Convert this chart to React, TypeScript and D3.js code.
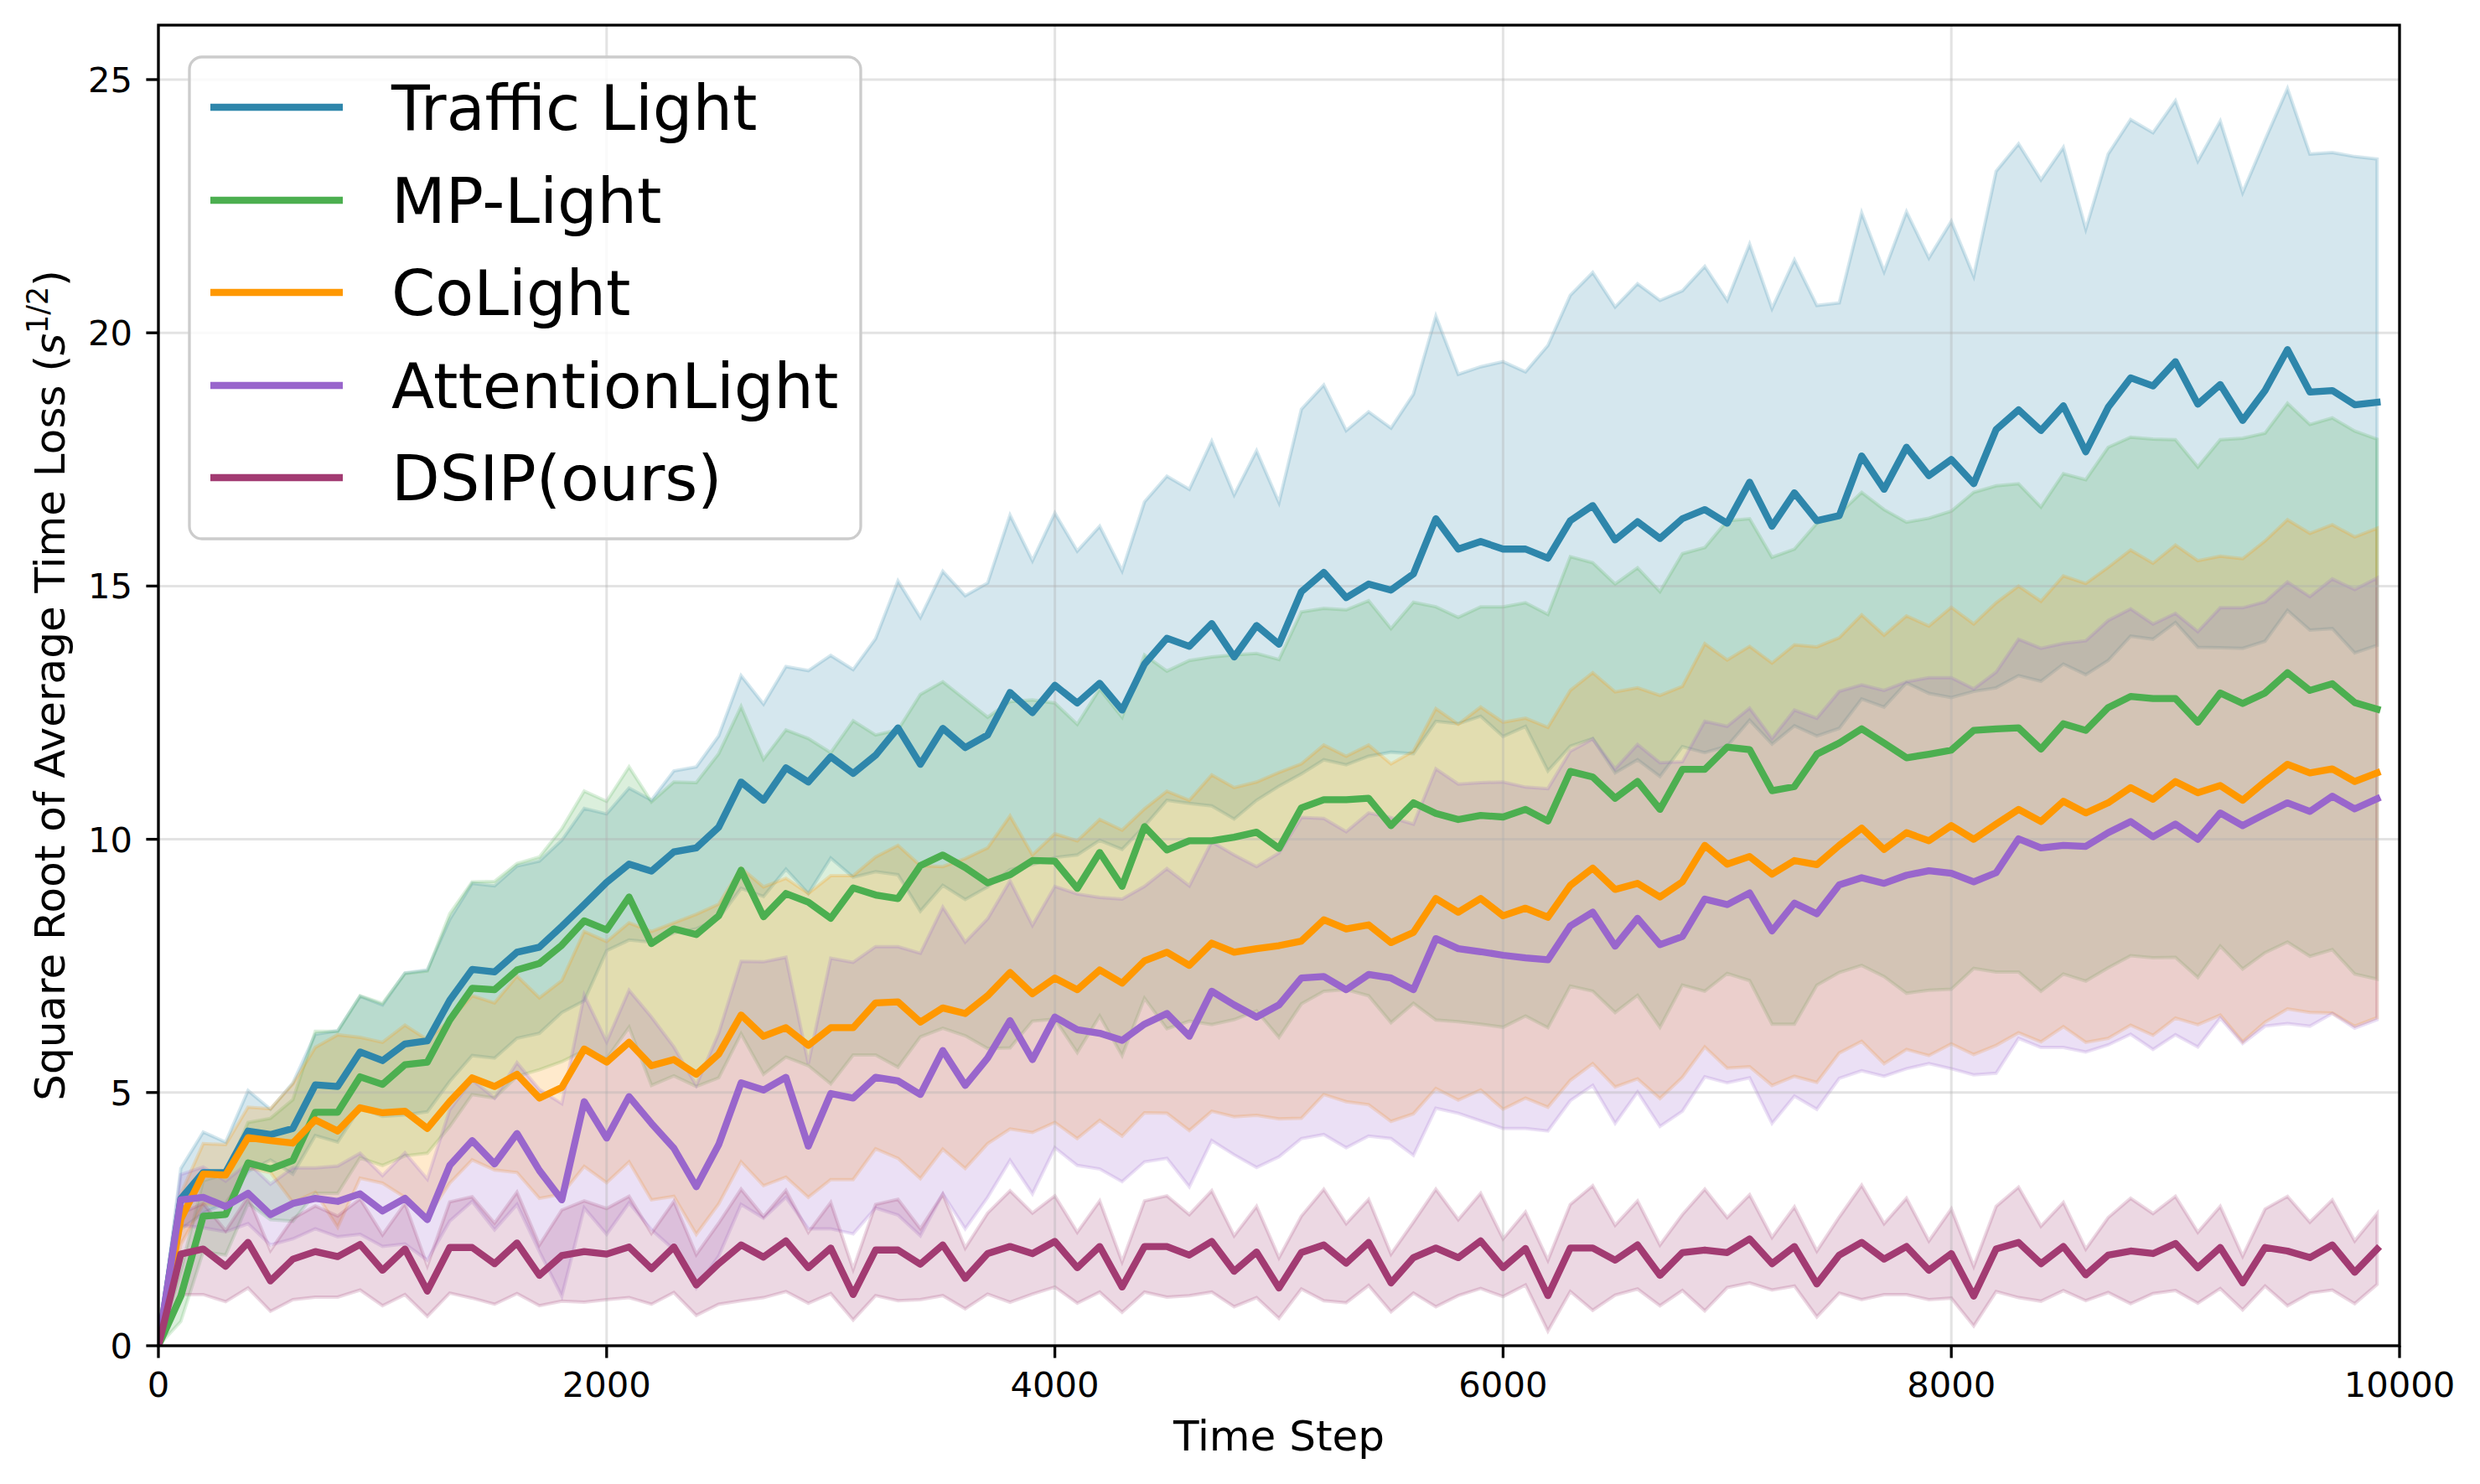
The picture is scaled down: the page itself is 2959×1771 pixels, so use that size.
import React from 'react';
import * as d3 from 'd3';

// Evaluation time steps (one sample every 100 steps)
const timeSteps = [
	0, 100, 200, 300, 400, 500, 600, 700, 800, 900,
	1000, 1100, 1200, 1300, 1400, 1500, 1600, 1700, 1800, 1900,
	2000, 2100, 2200, 2300, 2400, 2500, 2600, 2700, 2800, 2900,
	3000, 3100, 3200, 3300, 3400, 3500, 3600, 3700, 3800, 3900,
	4000, 4100, 4200, 4300, 4400, 4500, 4600, 4700, 4800, 4900,
	5000, 5100, 5200, 5300, 5400, 5500, 5600, 5700, 5800, 5900,
	6000, 6100, 6200, 6300, 6400, 6500, 6600, 6700, 6800, 6900,
	7000, 7100, 7200, 7300, 7400, 7500, 7600, 7700, 7800, 7900,
	8000, 8100, 8200, 8300, 8400, 8500, 8600, 8700, 8800, 8900,
	9000, 9100, 9200, 9300, 9400, 9500, 9600, 9700, 9800, 9900,
];

const trafficMean = [
	0, 2.9, 3.42, 3.42, 4.24, 4.17, 4.29, 5.15, 5.12, 5.8,
	5.63, 5.96, 6.02, 6.82, 7.43, 7.38, 7.77, 7.87, 8.28, 8.71,
	9.15, 9.51, 9.37, 9.75, 9.83, 10.24, 11.13, 10.77, 11.41, 11.13,
	11.63, 11.3, 11.66, 12.2, 11.48, 12.19, 11.81, 12.06, 12.9, 12.5,
	13.04, 12.69, 13.08, 12.55, 13.46, 13.97, 13.81, 14.26, 13.6, 14.22,
	13.85, 14.89, 15.27, 14.77, 15.04, 14.92, 15.24, 16.33, 15.73, 15.88,
	15.73, 15.73, 15.55, 16.29, 16.59, 15.91, 16.27, 15.94, 16.33, 16.51,
	16.24, 17.05, 16.18, 16.84, 16.29, 16.39, 17.57, 16.91, 17.74, 17.18,
	17.5, 17.02, 18.09, 18.48, 18.07, 18.56, 17.65, 18.53, 19.11, 18.95,
	19.43, 18.59, 18.98, 18.27, 18.86, 19.67, 18.83, 18.86, 18.58, 18.63,
];
const trafficStd = [
	0, 0.6, 0.8, 0.6, 0.8, 0.5, 0.9, 1.0, 1.1, 1.1,
	1.1, 1.4, 1.4, 1.6, 1.7, 1.7, 1.7, 1.7, 1.7, 1.9,
	1.35, 1.5, 1.4, 1.6, 1.6, 1.8, 2.1, 1.9, 2.0, 2.2,
	2.0, 2.05, 2.3, 2.9, 2.9, 3.1, 3.0, 3.0, 3.5, 3.0,
	3.4, 3.0, 3.1, 2.75, 3.2, 3.2, 3.1, 3.6, 3.2, 3.45,
	2.8, 3.6, 3.7, 3.3, 3.4, 3.2, 3.55, 4.0, 3.45, 3.45,
	3.7, 3.5, 4.2, 4.45, 4.6, 4.6, 4.7, 4.7, 4.5, 4.8,
	4.4, 4.7, 4.3, 4.6, 4.25, 4.2, 4.8, 4.3, 4.65, 4.3,
	4.7, 4.1, 5.1, 5.25, 4.95, 5.1, 4.4, 5.0, 5.1, 5.0,
	5.15, 4.8, 5.2, 4.5, 4.95, 5.15, 4.7, 4.7, 4.9, 4.8,
];

const mpMean = [
	0, 0.98, 2.56, 2.59, 3.61, 3.49, 3.66, 4.61, 4.61, 5.31,
	5.16, 5.55, 5.6, 6.43, 7.06, 7.03, 7.42, 7.55, 7.91, 8.39,
	8.21, 8.86, 7.94, 8.23, 8.12, 8.49, 9.39, 8.47, 8.93, 8.76,
	8.44, 9.04, 8.9, 8.83, 9.48, 9.69, 9.44, 9.14, 9.3, 9.58,
	9.57, 9.03, 9.74, 9.07, 10.25, 9.79, 9.97, 9.97, 10.04, 10.14,
	9.82, 10.62, 10.78, 10.78, 10.81, 10.27, 10.72, 10.51, 10.39, 10.47,
	10.44, 10.59, 10.36, 11.34, 11.23, 10.81, 11.14, 10.59, 11.38, 11.38,
	11.82, 11.77, 10.96, 11.04, 11.68, 11.9, 12.18, 11.9, 11.61, 11.68,
	11.76, 12.15, 12.18, 12.2, 11.78, 12.28, 12.15, 12.6, 12.82, 12.78,
	12.78, 12.31, 12.89, 12.68, 12.89, 13.29, 12.94, 13.07, 12.7, 12.57,
];
const mpStd = [
	0, 0.5, 0.7, 0.8, 0.8, 1.0, 1.2, 1.6, 1.6, 1.6,
	1.6, 1.8, 1.8, 2.1, 2.1, 2.14, 2.1, 2.1, 2.3, 2.56,
	2.54, 2.57, 2.8, 2.9, 3.0, 3.2, 3.23, 3.11, 3.23, 3.23,
	3.27, 3.3, 3.16, 3.33, 3.38, 3.42, 3.32, 3.27, 3.42, 3.17,
	3.12, 3.24, 3.23, 3.34, 3.39, 3.53, 3.56, 3.63, 3.6, 3.53,
	3.73, 3.87, 3.78, 3.75, 3.9, 3.89, 3.96, 4.08, 3.99, 4.12,
	4.15, 4.08, 4.08, 4.24, 4.23, 4.23, 4.22, 4.3, 4.26, 4.38,
	4.47, 4.56, 4.61, 4.69, 4.56, 4.53, 4.67, 4.61, 4.65, 4.66,
	4.72, 4.7, 4.8, 4.82, 4.78, 4.94, 4.95, 5.14, 5.12, 5.12,
	5.11, 5.04, 5.0, 5.24, 5.13, 5.32, 5.25, 5.25, 5.36, 5.33,
];

const coMean = [
	0, 2.5, 3.39, 3.37, 4.11, 4.05, 4.0, 4.46, 4.24, 4.7,
	4.6, 4.63, 4.29, 4.82, 5.29, 5.12, 5.36, 4.89, 5.1, 5.86,
	5.6, 5.99, 5.53, 5.65, 5.36, 5.76, 6.53, 6.11, 6.28, 5.93,
	6.28, 6.28, 6.77, 6.79, 6.39, 6.67, 6.56, 6.91, 7.37, 6.95,
	7.26, 7.03, 7.42, 7.16, 7.6, 7.77, 7.51, 7.95, 7.77, 7.84,
	7.9, 7.99, 8.41, 8.23, 8.31, 7.96, 8.16, 8.83, 8.56, 8.83,
	8.49, 8.64, 8.46, 9.09, 9.43, 9.01, 9.13, 8.86, 9.16, 9.88,
	9.51, 9.66, 9.31, 9.58, 9.5, 9.88, 10.22, 9.8, 10.13, 9.97,
	10.27, 10.0, 10.3, 10.59, 10.35, 10.75, 10.52, 10.72, 11.02, 10.79,
	11.14, 10.92, 11.06, 10.77, 11.14, 11.48, 11.31, 11.39, 11.14, 11.31,
];
const coStd = [
	0, 0.5, 0.6, 0.6, 0.6, 0.63, 1.17, 1.43, 1.9, 1.39,
	1.39, 1.7, 1.75, 1.61, 1.62, 1.65, 1.94, 1.98, 2.11, 2.32,
	2.38, 2.36, 2.65, 2.7, 3.16, 2.96, 2.9, 2.95, 2.95, 3.0,
	3.0, 3.0, 2.88, 3.09, 3.09, 2.79, 3.06, 2.92, 3.09, 2.74,
	2.85, 2.94, 2.97, 3.02, 3.0, 3.18, 3.26, 3.32, 3.25, 3.29,
	3.42, 3.5, 3.45, 3.41, 3.55, 3.53, 3.58, 3.75, 3.71, 3.78,
	3.82, 3.75, 3.75, 3.85, 3.86, 3.9, 3.86, 3.98, 3.86, 3.98,
	4.03, 4.15, 4.17, 4.26, 4.3, 4.1, 4.21, 4.23, 4.28, 4.24,
	4.31, 4.25, 4.37, 4.41, 4.35, 4.45, 4.53, 4.65, 4.69, 4.66,
	4.67, 4.58, 4.53, 4.77, 4.75, 4.83, 4.73, 4.82, 4.83, 4.83,
];

const attnMean = [
	0, 2.88, 2.93, 2.75, 3.01, 2.59, 2.81, 2.91, 2.85, 3.0,
	2.66, 2.91, 2.49, 3.56, 4.05, 3.59, 4.19, 3.46, 2.88, 4.82,
	4.1, 4.92, 4.39, 3.9, 3.14, 3.97, 5.19, 5.05, 5.3, 3.94,
	4.98, 4.89, 5.3, 5.23, 4.96, 5.83, 5.14, 5.68, 6.42, 5.65,
	6.49, 6.24, 6.17, 6.03, 6.35, 6.56, 6.11, 7.0, 6.73, 6.49,
	6.73, 7.26, 7.29, 7.03, 7.33, 7.26, 7.03, 8.04, 7.84, 7.78,
	7.71, 7.66, 7.62, 8.29, 8.56, 7.89, 8.44, 7.92, 8.08, 8.82,
	8.71, 8.94, 8.19, 8.74, 8.53, 9.1, 9.24, 9.13, 9.29, 9.38,
	9.33, 9.16, 9.34, 10.01, 9.83, 9.88, 9.86, 10.13, 10.35, 10.05,
	10.3, 10.0, 10.52, 10.27, 10.5, 10.72, 10.55, 10.85, 10.6, 10.8,
];
const attnStd = [
	0, 0.5, 0.6, 0.5, 0.6, 0.6, 0.7, 0.6, 0.7, 0.8,
	0.7, 0.9, 0.8, 1.1, 1.2, 1.3, 1.4, 1.6, 1.9, 2.1,
	1.9, 2.1, 2.1, 2.0, 2.0, 2.2, 2.4, 2.53, 2.37, 1.63,
	2.67, 2.68, 2.58, 2.65, 2.79, 2.83, 2.83, 2.75, 2.76, 2.65,
	2.58, 2.68, 2.68, 2.79, 2.72, 2.86, 2.97, 2.95, 2.96, 2.97,
	3.0, 3.17, 3.12, 3.12, 3.19, 3.17, 3.27, 3.35, 3.25, 3.34,
	3.42, 3.37, 3.38, 3.45, 3.42, 3.5, 3.43, 3.59, 3.45, 3.51,
	3.52, 3.65, 3.8, 3.81, 3.86, 3.82, 3.81, 3.81, 3.82, 3.81,
	3.86, 3.81, 3.96, 3.94, 3.94, 3.99, 4.06, 4.19, 4.2, 4.2,
	4.16, 4.1, 4.05, 4.3, 4.19, 4.36, 4.24, 4.29, 4.33, 4.36,
];

const dsipMean = [
	0, 1.81, 1.91, 1.57, 2.04, 1.28, 1.71, 1.86, 1.76, 2.0,
	1.49, 1.91, 1.08, 1.94, 1.94, 1.62, 2.03, 1.39, 1.78, 1.86,
	1.81, 1.95, 1.52, 1.95, 1.2, 1.62, 1.99, 1.75, 2.07, 1.54,
	1.93, 1.01, 1.89, 1.89, 1.61, 1.99, 1.33, 1.82, 1.96, 1.82,
	2.06, 1.54, 1.96, 1.16, 1.96, 1.96, 1.79, 2.06, 1.47, 1.85,
	1.14, 1.84, 1.99, 1.63, 2.04, 1.24, 1.74, 1.93, 1.74, 2.07,
	1.54, 1.92, 0.99, 1.93, 1.93, 1.69, 1.99, 1.39, 1.84, 1.89,
	1.84, 2.11, 1.62, 1.96, 1.22, 1.79, 2.04, 1.71, 1.96, 1.49,
	1.82, 0.98, 1.91, 2.04, 1.62, 1.96, 1.4, 1.79, 1.87, 1.82,
	2.02, 1.54, 1.94, 1.24, 1.94, 1.87, 1.74, 1.99, 1.45, 1.91,
];
const dsipStd = [
	0, 0.8, 0.9, 0.7, 0.9, 0.6, 0.8, 0.9, 0.8, 0.9,
	0.7, 0.9, 0.5, 0.9, 1.0, 0.8, 1.0, 0.6, 0.9, 1.0,
	0.9, 1.0, 0.7, 0.9, 0.6, 0.8, 1.1, 0.8, 1.0, 0.7,
	0.9, 0.5, 0.9, 1.0, 0.7, 1.0, 0.6, 0.8, 1.1, 0.8,
	0.9, 0.7, 0.9, 0.5, 0.9, 1.0, 0.8, 1.0, 0.7, 0.9,
	0.6, 0.72, 1.1, 0.78, 0.85, 0.57, 0.7, 1.16, 0.75, 0.94,
	0.57, 0.72, 0.7, 0.86, 1.23, 0.69, 0.87, 0.6, 0.75, 1.2,
	0.69, 0.87, 0.52, 0.78, 0.65, 0.75, 1.13, 0.7, 0.95, 0.58,
	0.88, 0.59, 0.84, 1.09, 0.74, 0.87, 0.51, 0.74, 1.04, 0.79,
	0.93, 0.7, 0.81, 0.53, 0.76, 1.08, 0.7, 0.89, 0.62, 0.7,
];

const seriesNames = ['Traffic Light', 'MP-Light', 'CoLight', 'AttentionLight', 'DSIP(ours)'];
const seriesColors = ['#2E86AB', '#4CAF50', '#FF9800', '#9966CC', '#A23B72'];
const seriesMeans = [trafficMean, mpMean, coMean, attnMean, dsipMean];
const seriesStds = [trafficStd, mpStd, coStd, attnStd, dsipStd];

const xTicks = [0, 2000, 4000, 6000, 8000, 10000];
const yTicks = [0, 5, 10, 15, 20, 25];

interface Point {
	t: number;
	mean: number;
	std: number;
}

const width = 2959;
const height = 1771;
const plotLeft = 189;
const plotRight = 2863;
const plotTop = 30;
const plotBottom = 1606;

const fontFamily = '"DejaVu Sans", sans-serif';

const App: React.FC = () => {
	const x = d3.scaleLinear().domain([0, 10000]).range([plotLeft, plotRight]);
	const y = d3.scaleLinear().domain([0, 26.075]).range([plotBottom, plotTop]);

	const series = seriesNames.map((name, k) => ({
		name,
		color: seriesColors[k],
		points: timeSteps.map((t, i): Point => ({ t, mean: seriesMeans[k][i], std: seriesStds[k][i] })),
	}));

	// mean +/- std band
	const band = d3.area<Point>()
		.x(d => x(d.t))
		.y0(d => y(d.mean - d.std))
		.y1(d => y(d.mean + d.std));

	const line = d3.line<Point>()
		.x(d => x(d.t))
		.y(d => y(d.mean));

	const lineWidth = 8.3;
	const tickLen = 14.6;
	const legendRows = [128, 239, 349, 460, 570];

	return (
		<svg
			width={width}
			height={height}
			viewBox={`0 0 ${width} ${height}`}
			style={{ position: 'absolute', left: 0, top: 0, background: '#fff' }}
			fontFamily={fontFamily}
		>
			<defs>
				<clipPath id="plot-clip">
					<rect x={plotLeft} y={plotTop} width={plotRight - plotLeft} height={plotBottom - plotTop} />
				</clipPath>
			</defs>
			<rect x={0} y={0} width={width} height={height} fill="#fff" />

			{/* shaded std bands */}
			<g clipPath="url(#plot-clip)">
				{series.map(s => (
					<path
						key={`band-${s.name}`}
						d={band(s.points) ?? ''}
						fill={s.color}
						fillOpacity={0.2}
						stroke={s.color}
						strokeOpacity={0.2}
						strokeWidth={4}
					/>
				))}
			</g>

			{/* grid */}
			<g stroke="#b0b0b0" strokeOpacity={0.35} strokeWidth={3}>
				{xTicks.map(t => (
					<line key={`gx-${t}`} x1={x(t)} x2={x(t)} y1={plotTop} y2={plotBottom} />
				))}
				{yTicks.map(v => (
					<line key={`gy-${v}`} x1={plotLeft} x2={plotRight} y1={y(v)} y2={y(v)} />
				))}
			</g>

			{/* mean lines */}
			<g clipPath="url(#plot-clip)">
				{series.map(s => (
					<path
						key={`line-${s.name}`}
						d={line(s.points) ?? ''}
						fill="none"
						stroke={s.color}
						strokeWidth={lineWidth}
						strokeLinejoin="round"
						strokeLinecap="square"
					/>
				))}
			</g>

			{/* frame */}
			<rect
				x={plotLeft}
				y={plotTop}
				width={plotRight - plotLeft}
				height={plotBottom - plotTop}
				fill="none"
				stroke="#000"
				strokeWidth={3.3}
			/>

			{/* x axis */}
			<g>
				{xTicks.map(t => (
					<g key={`xt-${t}`}>
						<line x1={x(t)} x2={x(t)} y1={plotBottom} y2={plotBottom + tickLen} stroke="#000" strokeWidth={3.3} />
						<text x={x(t)} y={1667} textAnchor="middle" fontSize={41.7} fill="#000">{t}</text>
					</g>
				))}
				<text x={(plotLeft + plotRight) / 2} y={1731} textAnchor="middle" fontSize={50} fill="#000">Time Step</text>
			</g>

			{/* y axis */}
			<g>
				{yTicks.map(v => (
					<g key={`yt-${v}`}>
						<line x1={plotLeft - tickLen} x2={plotLeft} y1={y(v)} y2={y(v)} stroke="#000" strokeWidth={3.3} />
						<text x={158} y={y(v) + 15} textAnchor="end" fontSize={41.7} fill="#000">{v}</text>
					</g>
				))}
				<text
					transform={`translate(77,${(plotTop + plotBottom) / 2}) rotate(-90)`}
					textAnchor="middle"
					fontSize={50}
					fill="#000"
				>
					Square Root of Average Time Loss (
					<tspan fontStyle="italic">s</tspan>
					<tspan fontSize={35} dy={-20}>1/2</tspan>
					<tspan dy={20}>)</tspan>
				</text>
			</g>

			{/* legend */}
			<g>
				<rect x={226} y={68} width={801} height={575} rx={15} ry={15} fill="#fff" fillOpacity={0.8} stroke="#cccccc" strokeWidth={3.3} />
				{series.map((s, i) => (
					<g key={`lg-${s.name}`}>
						<line x1={251} x2={409} y1={legendRows[i]} y2={legendRows[i]} stroke={s.color} strokeWidth={lineWidth} />
						<text x={467} y={legendRows[i] + 27} fontSize={75} fill="#000">{s.name}</text>
					</g>
				))}
			</g>
		</svg>
	);
};

export default App;
